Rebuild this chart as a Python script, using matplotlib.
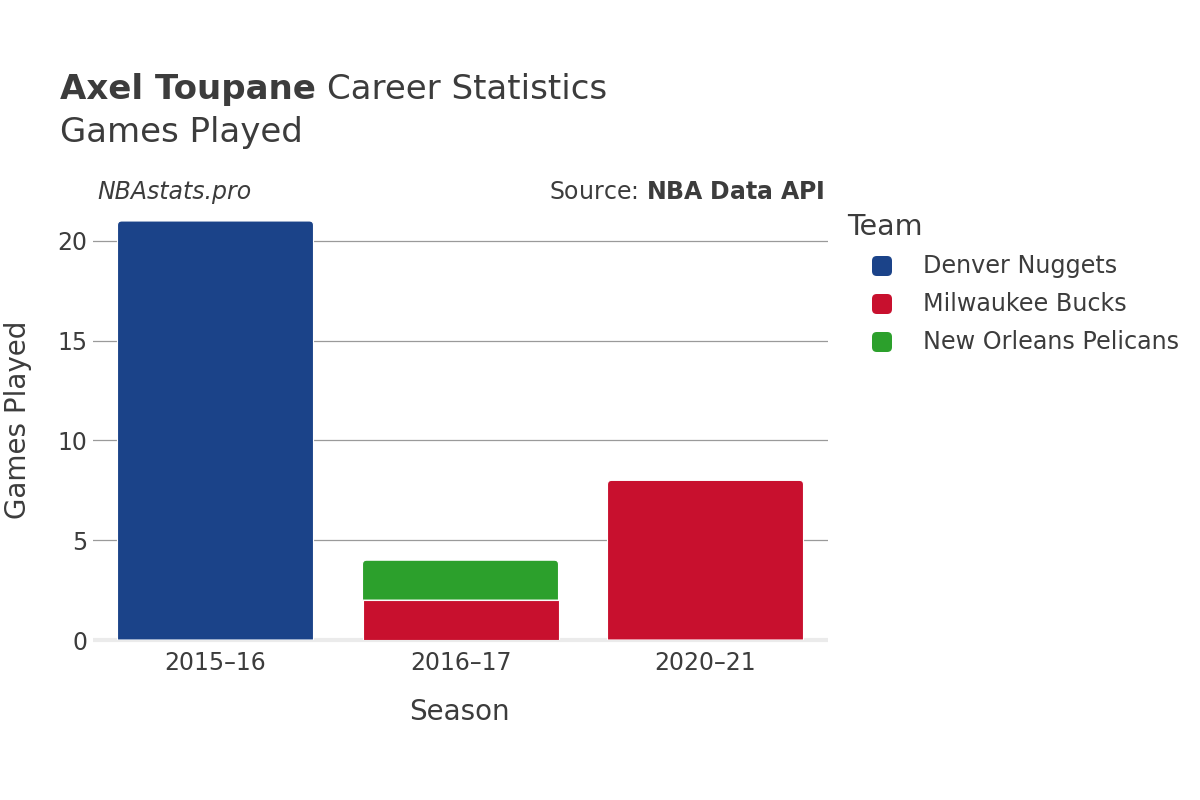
import matplotlib
matplotlib.use("Agg")
import matplotlib.pyplot as plt
from matplotlib.path import Path
from matplotlib.patches import PathPatch, FancyBboxPatch
import numpy as np

seasons = ["2015–16", "2016–17", "2020–21"]
teams = ["Denver Nuggets", "Milwaukee Bucks", "New Orleans Pelicans"]
colors = ["#1b4389", "#c8102e", "#2ca02c"]
# games per team per season (stacking order: Denver, Milwaukee, New Orleans)
denver = [21, 0, 0]
milwaukee = [0, 2, 8]
pelicans = [0, 2, 0]

plt.rcParams['font.family'] = ['DejaVu Sans']
TXT = "#3c3c3c"


def top_rounded(x0, y0, w, h, rx, ry):
    x1, y1 = x0 + w, y0 + h
    verts = [(x0, y0), (x1, y0), (x1, y1 - ry), (x1, y1), (x1 - rx, y1),
             (x0 + rx, y1), (x0, y1), (x0, y1 - ry), (x0, y0)]
    codes = [Path.MOVETO, Path.LINETO, Path.LINETO, Path.CURVE3, Path.CURVE3,
             Path.LINETO, Path.CURVE3, Path.CURVE3, Path.CLOSEPOLY]
    return Path(verts, codes)


fig = plt.figure(figsize=(12, 8), dpi=100)
ax = fig.add_axes([0.0775, 0.2, 0.6125, 0.525])

x = np.arange(len(seasons))
series = [denver, milwaukee, pelicans]
bottom = np.zeros(len(seasons))
tops = {}
for vals, col in zip(series, colors):
    vals = np.array(vals, dtype=float)
    bars = ax.bar(x, vals, width=0.8, bottom=bottom, color=col,
                  edgecolor="white", linewidth=0.8, zorder=3)
    for i, b in enumerate(bars):
        if vals[i] > 0:
            tops[i] = b
    bottom += vals

# round the top corners of the topmost segment of each stack
rx, ry = 0.017, 0.21
for i, b in tops.items():
    b.set_visible(False)
    p = top_rounded(b.get_x(), b.get_y(), b.get_width(), b.get_height(), rx, ry)
    ax.add_patch(PathPatch(p, facecolor=b.get_facecolor(), edgecolor="white",
                           linewidth=0.8, zorder=3))

ax.set_xlim(-0.5, len(seasons) - 0.5)
ax.set_ylim(0, 21.05)
ax.set_yticks([0, 5, 10, 15, 20])
ax.set_xticks(x)
ax.set_xticklabels(seasons)
for y in [5, 10, 15, 20]:
    ax.axhline(y, color="#9a9a9a", linewidth=0.9, zorder=1)
ax.axhline(0, color="#ebebeb", linewidth=3, zorder=2, clip_on=False,
           solid_capstyle="butt")
for s in ax.spines.values():
    s.set_visible(False)
ax.tick_params(axis="y", length=0, pad=4, labelsize=17, labelcolor=TXT)
ax.tick_params(axis="x", length=0, pad=8, labelsize=17, labelcolor=TXT)

t1 = fig.text(0.05, 0.888, "Axel Toupane", fontsize=24.5, fontweight="bold",
              color=TXT, va="center")
fig.canvas.draw()
bb = t1.get_window_extent(renderer=fig.canvas.get_renderer())
fig.text(bb.x1 / 1200 + 0.009, 0.888, "Career Statistics", fontsize=24.5,
         color=TXT, va="center")
fig.text(0.05, 0.834, "Games Played", fontsize=24.5, color=TXT, va="center")
fig.text(0.081, 0.76, "NBAstats.pro", fontsize=17, style="italic",
         color=TXT, va="center")
fig.text(0.687, 0.76, "Source: $\\bf{NBA\\ Data\\ API}$", fontsize=17,
         color=TXT, va="center", ha="right")

fig.text(0.383, 0.11, "Season", fontsize=20, color=TXT, ha="center", va="center")
fig.text(0.015, 0.475, "Games Played", fontsize=20, color=TXT, ha="center",
         va="center", rotation=90)

# legend
fig.text(0.706, 0.716, "Team", fontsize=20.5, color=TXT, va="center")
for k, (t, c) in enumerate(zip(teams, colors)):
    yc = 1 - (266 + 38 * k) / 800
    fig.patches.append(FancyBboxPatch((872 / 1200, yc - 10 / 800), 20 / 1200, 20 / 800,
                                      boxstyle="round,pad=0,rounding_size=0.004",
                                      mutation_aspect=1.5,
                                      transform=fig.transFigure,
                                      facecolor=c, edgecolor="none"))
    fig.text(923 / 1200, yc, t, fontsize=17.2, color=TXT, va="center")

fig.savefig("out.png", dpi=100, facecolor="white")
